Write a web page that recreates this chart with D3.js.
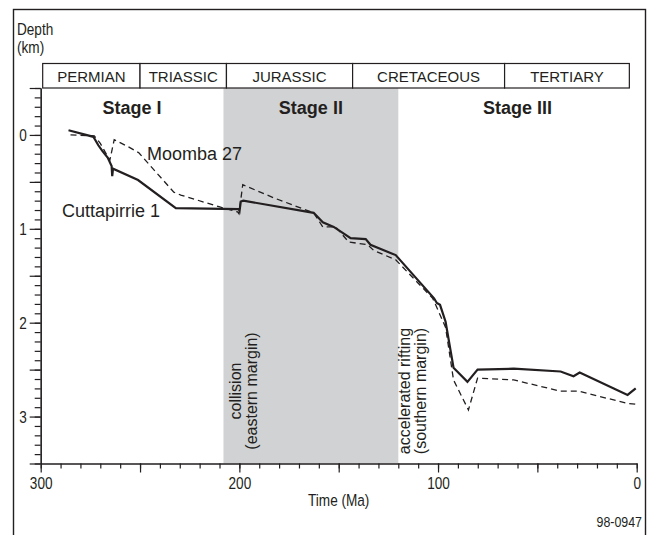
<!DOCTYPE html>
<html>
<head>
<meta charset="utf-8">
<script src="https://cdn.jsdelivr.net/npm/d3@7"></script>
<style>
  body { margin: 0; background: #fff; }
  svg { display: block; }
  text { font-family: 'Liberation Sans', Arial, Helvetica, sans-serif; fill: #231f20; }
  .axis path, .axis line { stroke: #231f20; stroke-width: 1.2; }
  .axis text { font-size: 17px; }
</style>
</head>
<body>
<div id="chart"></div>
<script>
// geological periods (Ma)
const periodNames = ['PERMIAN', 'TRIASSIC', 'JURASSIC', 'CRETACEOUS', 'TERTIARY'];
const periodBounds = [299, 250, 206.5, 143, 66.5, 3.7];

// tectonic stages (Ma)
const stageNames = ['Stage I', 'Stage II', 'Stage III'];
const stageBounds = [300, 208, 120, 0];

// burial history: Cuttapirrie 1
const cuttAge = [286, 273.5, 271, 269, 266.3, 264.3, 264.0, 263.6, 251, 232, 200.4, 199.9, 199.3, 198,
  162.6, 158, 152.5, 144, 136.4, 134, 121.3, 102, 100.6, 99, 96.2, 92.2, 85.2, 80.1, 61.9, 38.3, 31.8, 28.7, 4.6, 0.5];
const cuttDepth = [-0.05, 0.02, 0.11, 0.17, 0.24, 0.33, 0.44, 0.36, 0.48, 0.78, 0.79, 0.81, 0.71, 0.70,
  0.83, 0.93, 0.98, 1.10, 1.11, 1.17, 1.28, 1.74, 1.79, 1.81, 1.99, 2.48, 2.63, 2.50, 2.49, 2.52, 2.57, 2.53, 2.77, 2.70];

// burial history: Moomba 27
const moombaAge = [285, 273, 270, 265.2, 263, 254.7, 250.6, 233, 229.5, 209.4, 200.9, 200.2, 198.3, 182.7,
  162.6, 158, 151.5, 145, 135.4, 132.4, 121.3, 102.7, 101.2, 96.2, 92.2, 84.7, 80.1, 61.9, 38.3, 29.2, 4.6, 0];
const moombaDepth = [0.0, 0.01, 0.09, 0.27, 0.05, 0.14, 0.19, 0.61, 0.64, 0.77, 0.82, 0.84, 0.53, 0.67,
  0.83, 0.98, 0.98, 1.14, 1.17, 1.23, 1.33, 1.74, 1.81, 2.05, 2.61, 2.93, 2.59, 2.61, 2.73, 2.73, 2.86, 2.87];

const ink = '#231f20';
const width = 653;
const height = 535;
const squeeze = 0.8; // condensed look for axis lettering

const x = d3.scaleLinear().domain([300, 0]).range([40.7, 636.7]);
const y = d3.scaleLinear().domain([-0.5, 3.5]).range([88, 463.5]);

const svg = d3.select('#chart')
  .append('svg')
  .attr('width', width)
  .attr('height', height);

function narrowText(px, py, str, size, anchor = 'start') {
  return svg.append('text')
    .attr('transform', `translate(${px},${py}) scale(${squeeze},1)`)
    .attr('text-anchor', anchor)
    .attr('font-size', size)
    .text(str);
}

// outer frame (bottom edge runs off the picture)
svg.append('rect')
  .attr('x', 13.5).attr('y', 9.5)
  .attr('width', 632).attr('height', 560)
  .attr('fill', 'none')
  .attr('stroke', ink)
  .attr('stroke-width', 1.4);

// stage II shading
svg.append('rect')
  .attr('x', x(stageBounds[1]))
  .attr('y', y(-0.5))
  .attr('width', x(stageBounds[2]) - x(stageBounds[1]))
  .attr('height', y(3.5) - y(-0.5))
  .attr('fill', '#d1d2d4');

// period bar
const bar = svg.append('g');
periodNames.forEach((name, i) => {
  const x0 = x(periodBounds[i]);
  const x1 = x(periodBounds[i + 1]);
  bar.append('rect')
    .attr('x', x0).attr('y', 63.5)
    .attr('width', x1 - x0).attr('height', 24.5)
    .attr('fill', '#fff')
    .attr('stroke', ink)
    .attr('stroke-width', 1.2);
  bar.append('text')
    .attr('x', (x0 + x1) / 2).attr('y', 81.5)
    .attr('text-anchor', 'middle')
    .attr('font-size', 15)
    .text(name);
});

// stage labels
stageNames.forEach((name, i) => {
  svg.append('text')
    .attr('x', x((stageBounds[i] + stageBounds[i + 1]) / 2))
    .attr('y', 114)
    .attr('text-anchor', 'middle')
    .attr('font-size', 18)
    .attr('font-weight', 'bold')
    .text(name);
});

// axes: minor ticks first, then majors with labels
svg.append('g')
  .attr('class', 'axis')
  .attr('transform', `translate(${x(300)},0)`)
  .call(d3.axisLeft(y).tickValues(d3.range(-5, 36).map(d => d / 10)).tickSize(6).tickSizeOuter(0).tickFormat(''));
const yMajor = svg.append('g')
  .attr('class', 'axis')
  .attr('transform', `translate(${x(300)},0)`)
  .call(d3.axisLeft(y).tickValues(d3.range(-1, 8).map(d => d / 2)).tickSize(11).tickSizeOuter(0)
    .tickFormat(d => (Number.isInteger(d) && d >= 0 ? d : '')));
yMajor.selectAll('.tick text')
  .attr('x', null)
  .attr('transform', `translate(-14,0) scale(${squeeze},1)`);

svg.append('g')
  .attr('class', 'axis')
  .attr('transform', `translate(0,${y(3.5)})`)
  .call(d3.axisBottom(x).tickValues(d3.range(0, 301, 10)).tickSize(5).tickSizeOuter(0).tickFormat(''));
const xMajor = svg.append('g')
  .attr('class', 'axis')
  .attr('transform', `translate(0,${y(3.5)})`)
  .call(d3.axisBottom(x).tickValues(d3.range(0, 301, 50)).tickSize(9).tickSizeOuter(0).tickPadding(4)
    .tickFormat(d => (d % 100 === 0 ? d : '')));
xMajor.selectAll('.tick text')
  .attr('transform', `scale(${squeeze},1)`);

// axis titles
narrowText(17, 35, 'Depth', 17);
narrowText(17, 53, '(km)', 17);
narrowText(x(150), 506, 'Time (Ma)', 17, 'middle');
narrowText(642, 527, '98-0947', 15.5, 'end');

// event annotations (rotated)
const notes = [
  { x: 241, lines: ['collision', '(eastern margin)'] },
  { x: 410, lines: ['accelerated rifting', '(southern margin)'] }
];
notes.forEach(n => {
  n.lines.forEach((t, i) => {
    svg.append('text')
      .attr('transform', `translate(${n.x + i * 16},391) rotate(-90)`)
      .attr('text-anchor', 'middle')
      .attr('font-size', 16)
      .text(t);
  });
});

// burial curves
const line = d3.line().x(d => x(d[0])).y(d => y(d[1]));

svg.append('path')
  .attr('d', line(d3.zip(moombaAge, moombaDepth)))
  .attr('fill', 'none')
  .attr('stroke', ink)
  .attr('stroke-width', 1.3)
  .attr('stroke-dasharray', '6,4');

svg.append('path')
  .attr('d', line(d3.zip(cuttAge, cuttDepth)))
  .attr('fill', 'none')
  .attr('stroke', ink)
  .attr('stroke-width', 2.2)
  .attr('stroke-linejoin', 'miter');

// well labels
svg.append('text')
  .attr('x', 147).attr('y', 160).attr('font-size', 18).text('Moomba 27');
svg.append('text')
  .attr('x', 62).attr('y', 217).attr('font-size', 18).text('Cuttapirrie 1');
</script>
</body>
</html>
